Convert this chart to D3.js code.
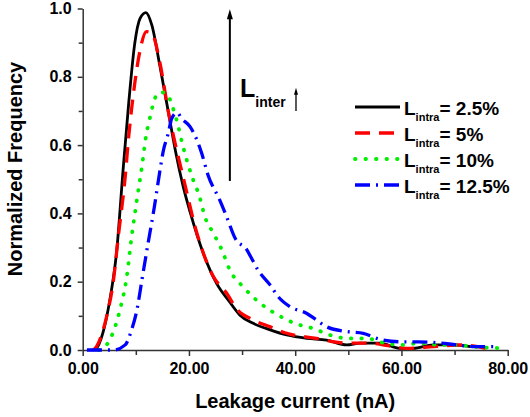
<!DOCTYPE html>
<html>
<head>
<meta charset="utf-8">
<script src="https://cdn.jsdelivr.net/npm/d3@7"></script>
<style>
  body { margin: 0; background: #fff; }
  svg { display: block; font-family: 'Liberation Sans', Arial, sans-serif; font-weight: bold; }
</style>
</head>
<body>
<div id="app"></div>
<script>
// series (x = leakage current nA, y = normalized frequency)
const x_25 = [2, 2.6, 3.8, 5.1, 6.4, 7.6, 8.7, 9.8, 10.8, 11.9, 13.0, 14.55, 16.4, 17.5, 18.9, 20.2, 22.7, 25.2, 27.7, 29.6, 32.1, 35.3, 38.4, 42.2, 45.9, 49.7, 52.2, 56, 59.7, 62.2, 66, 69.8, 73]
const y_25 = [0, 0.005, 0.05, 0.146, 0.29, 0.527, 0.73, 0.898, 0.971, 0.988, 0.952, 0.83, 0.673, 0.58, 0.48, 0.405, 0.283, 0.195, 0.14, 0.102, 0.078, 0.059, 0.044, 0.034, 0.029, 0.015, 0.02, 0.02, 0.005, 0.005, 0.015, 0.015, 0.01]

const x_5 = [2, 2.6, 4.5, 5.8, 6.7, 8.0, 8.6, 9.8, 10.8, 12.0, 13.0, 14.55, 16.1, 17.7, 18.9, 21.5, 24.6, 27.1, 29, 32.1, 35.3, 38.4, 44, 49.7, 54, 61, 66, 71, 77.3]
const y_5 = [0, 0.01, 0.098, 0.205, 0.332, 0.507, 0.615, 0.781, 0.878, 0.932, 0.927, 0.84, 0.70, 0.585, 0.507, 0.342, 0.215, 0.166, 0.12, 0.088, 0.068, 0.049, 0.034, 0.02, 0.02, 0.005, 0.01, 0.015, 0]

const x_10 = [3, 4.5, 6.1, 7, 8.3, 9.2, 10.2, 11.1, 12, 12.7, 13.6, 14.6, 15.7, 17.1, 18, 18.9, 20.8, 22, 23, 24.6, 26.2, 27.7, 30.2, 33.4, 36.8, 40.3, 43.4, 46.5, 50, 53.4, 56.9, 60, 63.5, 67, 70.4, 73.2, 79.8]
const y_10 = [0, 0.015, 0.068, 0.117, 0.215, 0.33, 0.44, 0.532, 0.634, 0.683, 0.737, 0.755, 0.752, 0.703, 0.654, 0.595, 0.498, 0.449, 0.39, 0.342, 0.293, 0.234, 0.185, 0.137, 0.102, 0.076, 0.063, 0.044, 0.034, 0.034, 0.02, 0.015, 0.02, 0.015, 0.015, 0.01, 0.005]

const x_125 = [0.8, 5.8, 8, 9.2, 10.2, 11.2, 12.3, 13.5, 14.55, 15.2, 16.1, 16.75, 17.8, 18.6, 20.2, 21.5, 22.4, 23.6, 25.8, 27.1, 28.7, 30.9, 31.8, 33, 35.3, 36.8, 39, 42.2, 44, 45.9, 49.7, 52.8, 56, 60, 63.2, 67, 70.4, 73.8, 78.2]
const y_125 = [0, 0, 0.015, 0.059, 0.117, 0.21, 0.312, 0.42, 0.527, 0.585, 0.634, 0.678, 0.695, 0.678, 0.654, 0.615, 0.576, 0.512, 0.439, 0.39, 0.327, 0.293, 0.268, 0.234, 0.19, 0.156, 0.127, 0.107, 0.088, 0.068, 0.054, 0.049, 0.031, 0.024, 0.024, 0.021, 0.015, 0.01, 0.01]

const legend_labels = ['= 2.5%', '= 5%', '= 10%', '= 12.5%']
const x_ticks = [0, 20, 40, 60, 80]
const x_minor = [10, 30, 50, 70]
const y_ticks = [0, 0.2, 0.4, 0.6, 0.8, 1.0]
const y_minor = [0.1, 0.3, 0.5, 0.7, 0.9]

function main() {
  const width = 530
  const height = 417
  const margin = { top: 8.5, right: 22.3, bottom: 67, left: 82.7 }

  const svg = d3
    .select('#app')
    .append('svg')
    .attr('width', width)
    .attr('height', height)

  const x_scale = d3.scaleLinear().domain([0, 80]).range([margin.left, width - margin.right])
  const y_scale = d3.scaleLinear().domain([0, 1]).range([height - margin.bottom, margin.top])

  // series styles
  const series = [
    { xs: x_25, ys: y_25, color: '#000000', width: 2.8, dash: null, cap: 'butt' },
    { xs: x_5, ys: y_5, color: '#ff0000', width: 3.3, dash: '15,9', cap: 'butt' },
    { xs: x_10, ys: y_10, color: '#00ee00', width: 3.8, dash: '0.5,10', cap: 'round' },
    { xs: x_125, ys: y_125, color: '#0000ff', width: 3.3, dash: '15,6,2,6', cap: 'butt' },
  ]

  const line = d3
    .line()
    .x((d) => x_scale(d[0]))
    .y((d) => y_scale(d[1]))
    .curve(d3.curveMonotoneX)

  // axes
  const axis_color = '#333'
  svg
    .append('g')
    .attr('transform', `translate(0,${y_scale(0)})`)
    .call(d3.axisBottom(x_scale).tickValues(x_ticks).tickFormat(d3.format('.2f')).tickSize(6).tickSizeOuter(0).tickPadding(7))
  svg
    .append('g')
    .attr('transform', `translate(0,${y_scale(0)})`)
    .call(d3.axisBottom(x_scale).tickValues(x_minor).tickFormat('').tickSize(5).tickSizeOuter(0))
    .call((g) => g.select('.domain').remove())

  svg
    .append('g')
    .attr('transform', `translate(${x_scale(0)},0)`)
    .call(d3.axisLeft(y_scale).tickValues(y_ticks).tickFormat(d3.format('.1f')).tickSize(5).tickSizeOuter(0).tickPadding(6))
  svg
    .append('g')
    .attr('transform', `translate(${x_scale(0)},0)`)
    .call(d3.axisLeft(y_scale).tickValues(y_minor).tickFormat('').tickSize(4).tickSizeOuter(0))
    .call((g) => g.select('.domain').remove())

  svg.selectAll('.domain, .tick line').attr('stroke', axis_color).attr('stroke-width', 1.5)
  svg
    .selectAll('.tick text')
    .attr('fill', '#000')
    .style('font-size', '16px')
    .style('font-weight', 'bold')
    .style('font-family', "'Liberation Sans', Arial, sans-serif")

  // curves
  series.forEach((s) => {
    const pts = s.xs.map((x, i) => [x, s.ys[i]])
    svg
      .append('path')
      .datum(pts)
      .attr('d', line)
      .attr('fill', 'none')
      .attr('stroke', s.color)
      .attr('stroke-width', s.width)
      .attr('stroke-dasharray', s.dash)
      .attr('stroke-linecap', s.cap)
      .attr('stroke-linejoin', 'round')
  })

  // axis titles
  svg
    .append('text')
    .attr('x', (x_scale(0) + x_scale(80)) / 2)
    .attr('y', 408)
    .attr('text-anchor', 'middle')
    .style('font-size', '20px')
    .text('Leakage current (nA)')

  svg
    .append('text')
    .attr('transform', `translate(22,${y_scale(0.53)}) rotate(-90)`)
    .attr('text-anchor', 'middle')
    .style('font-size', '20px')
    .text('Normalized Frequency')

  // L_inter arrows, heads drawn as small triangles
  function arrow(xv, y0, y1, sw, hw, hh) {
    const ax = x_scale(xv)
    const top = y_scale(y1)
    svg
      .append('line')
      .attr('x1', ax)
      .attr('x2', ax)
      .attr('y1', y_scale(y0))
      .attr('y2', top + hh - 1)
      .attr('stroke', '#000')
      .attr('stroke-width', sw)
    svg
      .append('path')
      .attr('d', `M${ax},${top} L${ax - hw / 2},${top + hh} L${ax + hw / 2},${top + hh} Z`)
      .attr('fill', '#000')
  }
  arrow(27.7, 0.495, 0.998, 2, 6, 10)
  arrow(40.15, 0.7, 0.768, 1.3, 4, 7)

  const linter = svg.append('text').attr('x', 240).attr('y', 97)
  linter.append('tspan').style('font-size', '25px').text('L')
  linter.append('tspan').attr('dy', 10).style('font-size', '14px').text('inter')

  // legend
  const legend = svg.append('g')
  series.forEach((s, i) => {
    const ly = 107 + i * 26
    legend
      .append('line')
      .attr('x1', 355)
      .attr('x2', 400)
      .attr('y1', ly)
      .attr('y2', ly)
      .attr('stroke', s.color)
      .attr('stroke-width', s.width)
      .attr('stroke-dasharray', s.dash)
      .attr('stroke-linecap', s.cap)
    const t = legend.append('text').attr('x', 404).attr('y', ly + 8)
    t.append('tspan').style('font-size', '19px').text('L')
    t.append('tspan').attr('dy', 6).style('font-size', '11px').text('intra')
    t.append('tspan').attr('dy', -6).style('font-size', '19px').text(legend_labels[i])
  })
}

main()
</script>
</body>
</html>
